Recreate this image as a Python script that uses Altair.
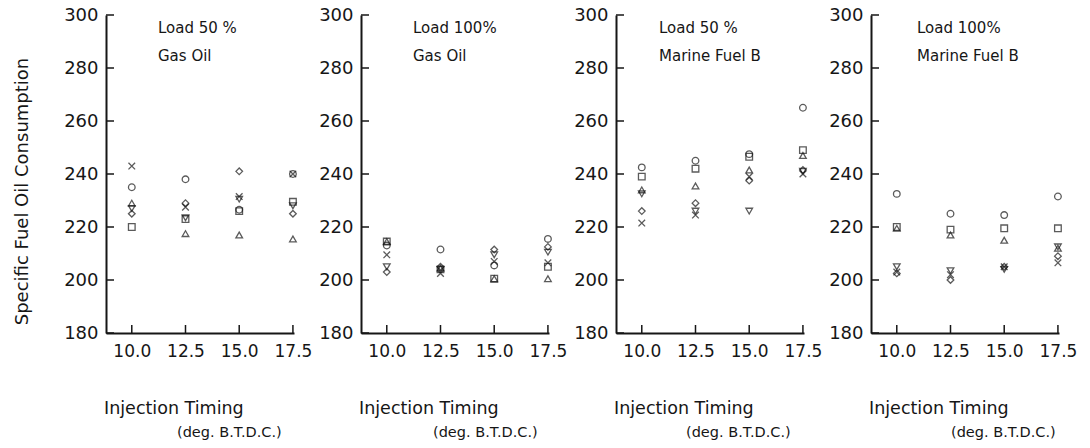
import altair as alt
import pandas as pd

timing = [10.0, 12.5, 15.0, 17.5]
series_names = ["circle", "square", "triangle-up", "triangle-down", "diamond", "cross"]
y_ticks = [180, 200, 220, 240, 260, 280, 300]

# Load 50 %, Gas Oil
go50_circle = [235, 238, 226.5, 240]
go50_square = [220, 223, 226, 229.5]
go50_tri_up = [229, 217.5, 217, 215.5]
go50_tri_down = [227, 223.5, 230.5, 228]
go50_diamond = [225, 229, 241, 225]
go50_cross = [243, 227.5, 231.5, 240]

# Load 100 %, Gas Oil
go100_circle = [213, 211.5, 205.5, 215.5]
go100_square = [214.5, 204, 200.5, 205]
go100_tri_up = [214.5, 204.5, 200.5, 200.5]
go100_tri_down = [205, 204, 209.5, 210.5]
go100_diamond = [203, 205, 211.5, 212.5]
go100_cross = [209.5, 202.5, 207, 206.5]

# Load 50 %, Marine Fuel B
mf50_circle = [242.5, 245, 247.5, 265]
mf50_square = [239, 242, 246.5, 249]
mf50_tri_up = [234, 235.5, 241.5, 247]
mf50_tri_down = [232.5, 226, 226, 241]
mf50_diamond = [226, 229, 237.5, 241.5]
mf50_cross = [221.5, 224.5, 239, 240]

# Load 100 %, Marine Fuel B
mf100_circle = [232.5, 225, 224.5, 231.5]
mf100_square = [220, 219, 219.5, 219.5]
mf100_tri_up = [219.5, 217, 215, 212]
mf100_tri_down = [205, 203.5, 204, 212.5]
mf100_diamond = [202.5, 200, 205, 209]
mf100_cross = [203, 202, 205, 206.5]

panel_info = [
    ("Load 50 %", "Gas Oil", [go50_circle, go50_square, go50_tri_up, go50_tri_down, go50_diamond, go50_cross], 52),
    ("Load 100%", "Gas Oil", [go100_circle, go100_square, go100_tri_up, go100_tri_down, go100_diamond, go100_cross], 52),
    ("Load 50 %", "Marine Fuel B", [mf50_circle, mf50_square, mf50_tri_up, mf50_tri_down, mf50_diamond, mf50_cross], 43),
    ("Load 100%", "Marine Fuel B", [mf100_circle, mf100_square, mf100_tri_up, mf100_tri_down, mf100_diamond, mf100_cross], 46),
]
deg_offsets = [71, 72, 70, 80]

FONT = "DejaVu Sans"
INK = "#161616"
W, H = 188, 318
shape_range = ["circle", "square", "triangle-up", "triangle-down", "diamond", "M-1,-1L1,1M-1,1L1,-1"]

xscale = alt.Scale(domain=[8.8, 17.55], nice=False, zero=False)
yscale = alt.Scale(domain=[180, 300], nice=False, zero=False)


def make_panel(i, line1, line2, series_vals, tx):
    rows = []
    for name, vals in zip(series_names, series_vals):
        for t, v in zip(timing, vals):
            rows.append({"timing": t, "sfoc": v, "series": name})
    df = pd.DataFrame(rows)

    common = dict(
        values=y_ticks, ticks=False, tickSize=0, labelPadding=8, grid=False,
        domainColor=INK, domainWidth=2, labelColor=INK, labelFont=FONT, labelFontSize=18,
    )
    if i == 0:
        yaxis = alt.Axis(
            title="Specific Fuel Oil Consumption",
            titleFont=FONT, titleFontSize=18, titleFontWeight="normal", titleColor=INK,
            titleX=-75, titleY=176, **common,
        )
    else:
        yaxis = alt.Axis(title=None, **common)
    xaxis = alt.Axis(
        values=timing, format=".1f", ticks=False, tickSize=0, labelPadding=10, grid=False,
        domainColor=INK, domainWidth=2, labelColor=INK, labelFont=FONT, labelFontSize=17,
        title=None,
    )

    points = alt.Chart(df).mark_point(filled=False, size=44, strokeWidth=1.3, color=INK).encode(
        x=alt.X("timing:Q", scale=xscale, axis=xaxis),
        y=alt.Y("sfoc:Q", scale=yscale, axis=yaxis),
        shape=alt.Shape("series:N", scale=alt.Scale(domain=series_names, range=shape_range), legend=None),
    )

    ytick_df = pd.DataFrame({"v": y_ticks})
    yt = alt.Chart(ytick_df).mark_rule(color=INK, strokeWidth=1.5).encode(
        y=alt.Y("v:Q", scale=yscale), x=alt.value(0), x2=alt.value(8)
    )
    xtick_df = pd.DataFrame({"t": timing})
    xt = alt.Chart(xtick_df).mark_rule(color=INK, strokeWidth=1.5).encode(
        x=alt.X("t:Q", scale=xscale), y=alt.value(H), y2=alt.value(H - 8)
    )

    def label(txt, x, y, size, align="left"):
        return alt.Chart(pd.DataFrame({"s": [txt]})).mark_text(
            font=FONT, fontSize=size, color=INK, align=align, baseline="middle"
        ).encode(text="s:N", x=alt.value(x), y=alt.value(y))

    texts = [
        label(line1, tx, 13, 15),
        label(line2, tx, 41, 15),
        label("Injection Timing", -2, 394, 17.5),
        label("(deg. B.T.D.C.)", deg_offsets[i], 418, 14.5),
    ]
    return alt.layer(points, yt, xt, *texts).properties(width=W, height=H)


charts = [make_panel(i, *p) for i, p in enumerate(panel_info)]

chart = alt.hconcat(*charts, spacing=67, bounds="flush").configure_view(
    stroke=None
).properties(
    padding={"left": 13, "top": 6, "right": 5, "bottom": 5},
    background="white",
)

chart.save("out.html", embed_options={"renderer": "svg", "actions": False})
